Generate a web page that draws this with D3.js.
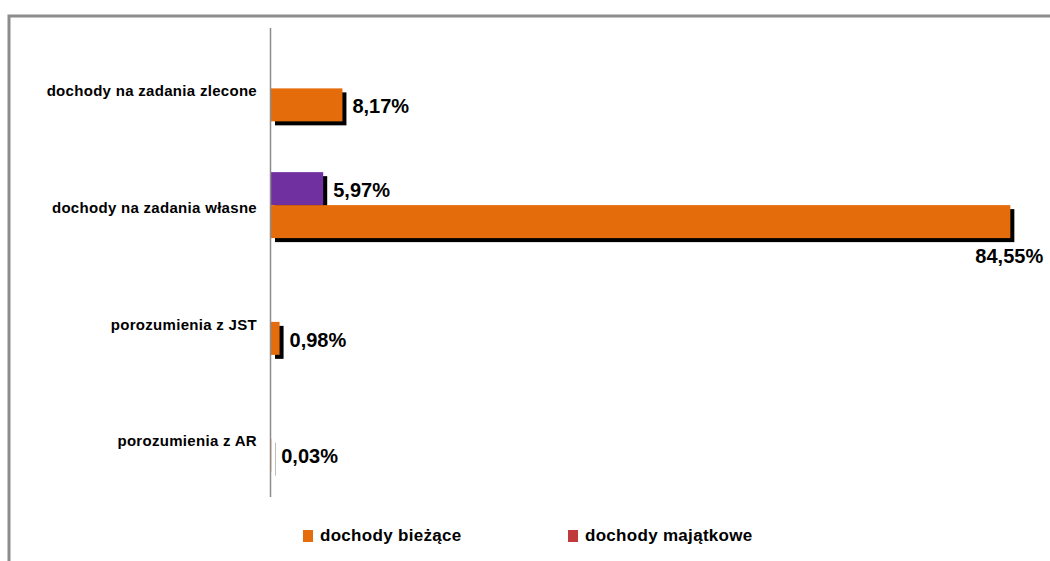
<!DOCTYPE html>
<html>
<head>
<meta charset="utf-8">
<script src="https://cdn.jsdelivr.net/npm/d3@7"></script>
<style>
  body { margin: 0; background: #fff; }
  text { font-family: "Liberation Sans", Arial, sans-serif; font-weight: bold; fill: #000; }
</style>
</head>
<body>
<div id="chart"></div>
<script>
// data
var categories = ["dochody na zadania zlecone", "dochody na zadania własne", "porozumienia z JST", "porozumienia z AR"];
var seriesNames = ["dochody majątkowe", "dochody bieżące"];
var biezace = [8.17, 84.55, 0.98, 0.03];
var majatkowe = [0, 5.97, 0, 0];
var legendNames = ["dochody bieżące", "dochody majątkowe"];

var svgWidth = 1050;
var svgHeight = 561;

var barColors = {"dochody bieżące": "#e46c0a", "dochody majątkowe": "#7030a0"};
var legendColors = {"dochody bieżące": "#e46c0a", "dochody majątkowe": "#c0393b"};

var svg = d3.select("#chart").append("svg")
  .attr("width", svgWidth)
  .attr("height", svgHeight);

// outer frame (runs off the right and bottom edge)
svg.append("rect")
  .attr("x", 9)
  .attr("y", 16)
  .attr("width", 1100)
  .attr("height", 600)
  .attr("fill", "none")
  .attr("stroke", "#8c8c8c")
  .attr("stroke-width", 3);

// scales
var xScale = d3.scaleLinear()
  .domain([0, 90])
  .range([271, 1058]);

var yScale = d3.scaleBand()
  .domain(categories)
  .range([30, 497])
  .paddingInner(0.435)
  .paddingOuter(0.2175);

var ySub = d3.scaleBand()
  .domain(seriesNames)
  .range([0, yScale.bandwidth()]);

// flatten into rows
var rows = [];
categories.forEach(function(c, i) {
  rows.push({cat: c, series: "dochody majątkowe", value: majatkowe[i]});
  rows.push({cat: c, series: "dochody bieżące", value: biezace[i]});
});
var shown = rows.filter(d => d.value > 0);

// shadows
svg.append("g").selectAll("rect")
  .data(shown)
  .enter()
  .append("rect")
  .attr("x", xScale(0) + 4)
  .attr("y", d => yScale(d.cat) + ySub(d.series) + 4)
  .attr("width", d => xScale(d.value) - xScale(0))
  .attr("height", ySub.bandwidth())
  .attr("fill", "#000");

// bars
svg.append("g").selectAll("rect")
  .data(shown)
  .enter()
  .append("rect")
  .attr("x", xScale(0))
  .attr("y", d => yScale(d.cat) + ySub(d.series))
  .attr("width", d => xScale(d.value) - xScale(0))
  .attr("height", ySub.bandwidth())
  .attr("fill", d => barColors[d.series]);

// vertical axis line
svg.append("line")
  .attr("x1", 270.5)
  .attr("x2", 270.5)
  .attr("y1", 28)
  .attr("y2", 497)
  .attr("stroke", "#8c8c8c")
  .attr("stroke-width", 1.5);

// category labels
var yAxis = d3.axisLeft(yScale).tickSize(0).tickPadding(0);
var yAxisG = svg.append("g")
  .attr("transform", "translate(257, 3)")
  .call(yAxis);
yAxisG.select(".domain").remove();
yAxisG.selectAll("text")
  .attr("font-size", "15px")
  .attr("letter-spacing", "0.3px")
  .attr("font-family", "Liberation Sans, Arial, sans-serif")
  .attr("font-weight", "bold")
  .attr("fill", "#000");

// value labels (a label that would not fit on the right goes under the bar)
function fmt(v) { return v.toFixed(2).replace(".", ",") + "%"; }
svg.append("g").selectAll("text")
  .data(rows.filter(d => d.series === "dochody bieżące" || d.value > 0))
  .enter()
  .append("text")
  .attr("font-size", "20px")
  .attr("dominant-baseline", "middle")
  .attr("x", function(d) {
    var end = xScale(d.value);
    return end + 70 > svgWidth ? end - 35 : end + 10;
  })
  .attr("y", function(d) {
    var top = yScale(d.cat) + ySub(d.series);
    var end = xScale(d.value);
    return end + 70 > svgWidth ? top + ySub.bandwidth() + 20 : top + ySub.bandwidth() / 2 + 3;
  })
  .text(d => fmt(d.value));

// legend
var legend = svg.append("g").selectAll("g")
  .data(legendNames)
  .enter()
  .append("g")
  .attr("transform", (d, i) => `translate(${303 + i * 265}, 530)`);

legend.append("rect")
  .attr("width", 10)
  .attr("height", 12)
  .attr("fill", d => legendColors[d]);

legend.append("text")
  .attr("x", 17)
  .attr("y", 7)
  .attr("font-size", "17px")
  .attr("letter-spacing", "0.3px")
  .attr("dominant-baseline", "middle")
  .text(d => d);
</script>
</body>
</html>
